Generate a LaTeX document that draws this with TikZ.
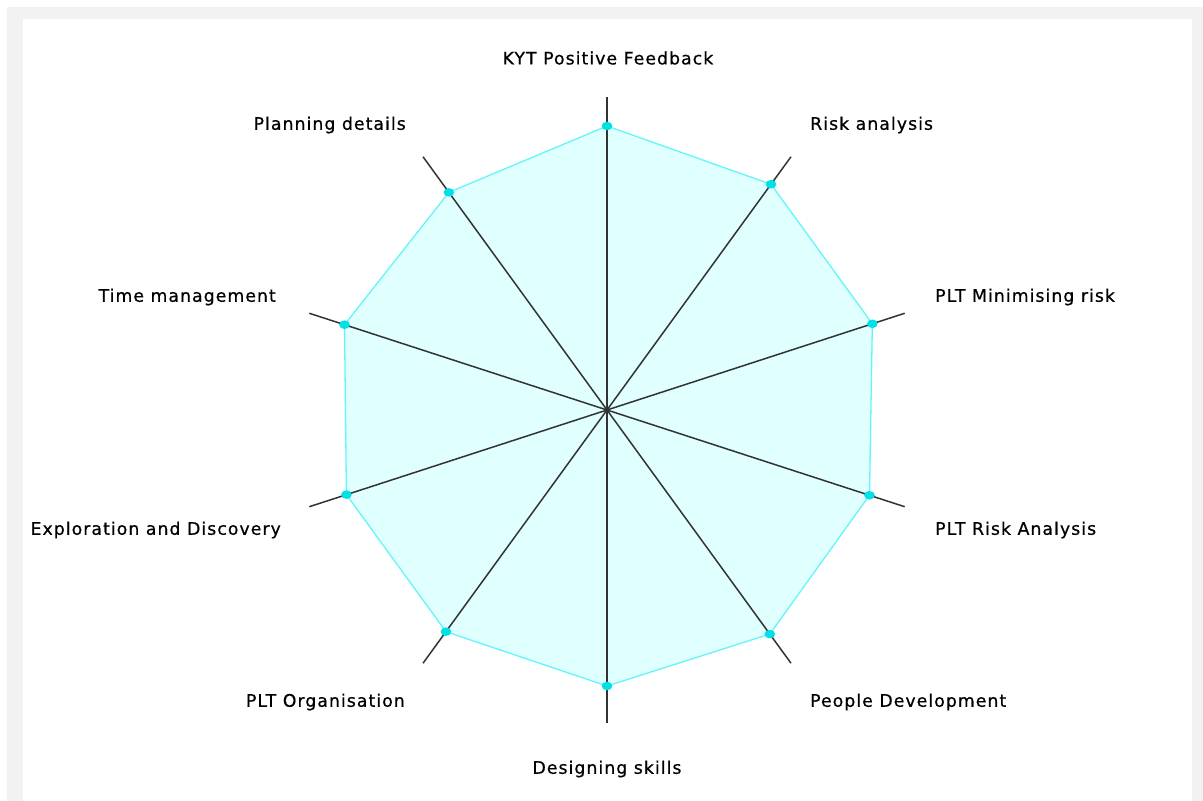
\documentclass[tikz,border=0pt]{standalone}
\usepackage{fontspec}
\setmainfont{DejaVu Sans}[LetterSpace=6,FakeBold=0.6]
\usetikzlibrary{calc}
\definecolor{polyfill}{RGB}{224,255,255}
\definecolor{polyedge}{RGB}{100,245,250}
\definecolor{dotcol}{RGB}{0,225,230}
\definecolor{framegray}{RGB}{242,242,242}
\begin{document}
\begin{tikzpicture}[x=1pt,y=1pt,
  lbl/.style={font=\fontsize{17.3}{19}\selectfont, text=black, inner sep=0pt},
  axisline/.style={draw=black!80, line width=1.5pt},
  polyline/.style={draw=polyedge, fill=polyfill, line width=1.3pt},
  dot/.style={fill=dotcol}]
\useasboundingbox (0,0) rectangle (1203,801);
\fill[white] (0,0) rectangle (1203,801);
\fill[framegray] (7,0) rectangle (1203,794);
\fill[white] (23,0) rectangle (1192,782);
\coordinate (c) at (607,391);
% vertices
\path (c) ++(90:284) coordinate (v1)
      (c) ++(54:279) coordinate (v2)
      (c) ++(18:279) coordinate (v3)
      (c) ++(-18:276) coordinate (v4)
      (c) ++(-54:277) coordinate (v5)
      (c) ++(-90:276) coordinate (v6)
      (c) ++(-126:274) coordinate (v7)
      (c) ++(-162:274) coordinate (v8)
      (c) ++(162:276) coordinate (v9)
      (c) ++(126:269) coordinate (v10);
\path[polyline] (v1) -- (v2) -- (v3) -- (v4) -- (v5) -- (v6) -- (v7) -- (v8) -- (v9) -- (v10) -- cycle;
\foreach \a [count=\i] in {90,54,18,-18,-54,-90,-126,-162,162,126} {
  \coordinate (e\i) at ($(c)+(\a:313)$);
}
\foreach \i in {1,...,10} { \draw[axisline] (c) -- (e\i); }
\foreach \i in {1,...,10} { \fill[dot] (v\i) ellipse (5.3 and 4.3); }
\node[lbl] (l1) at (608,743) {KYT Positive Feedback};
\node[lbl, anchor=west] (l2) at (810,676) {Risk analysis};
\node[lbl, anchor=west] (l3) at (935,504) {PLT Minimising risk};
\node[lbl, anchor=west] (l4) at (935,271) {PLT Risk Analysis};
\node[lbl, anchor=west] (l5) at (810,99) {People Development};
\node[lbl] (l6) at (607,32) {Designing skills};
\node[lbl, anchor=east] (l7) at (405,99) {PLT Organisation};
\node[lbl, anchor=east] (l8) at (281,271) {Exploration and Discovery};
\node[lbl, anchor=east] (l9) at (276,504) {Time management};
\node[lbl, anchor=east] (l10) at (406,676) {Planning details};
\end{tikzpicture}
\end{document}
